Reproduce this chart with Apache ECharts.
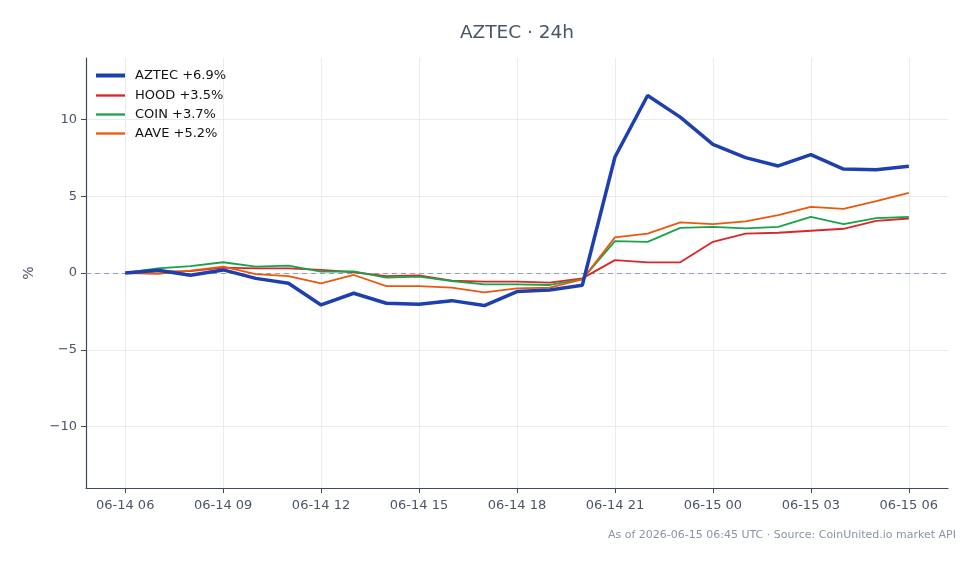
<!DOCTYPE html>
<html>
<head>
<meta charset="utf-8">
<script src="https://cdn.jsdelivr.net/npm/echarts@6/dist/echarts.min.js"></script>
<style>
html,body{margin:0;padding:0;background:#fff;}
#chart{width:979px;height:564px;}
</style>
</head>
<body>
<div id="chart"></div>
<script>
// hours since 2026-06-14 06:00 UTC
const hours = [0,1,2,3,4,5,6,7,8,9,10,11,12,13,14,15,16,17,18,19,20,21,22,23,24];
const tickHours = [0,3,6,9,12,15,18,21,24];
const tickLabels = ['06-14 06','06-14 09','06-14 12','06-14 15','06-14 18','06-14 21','06-15 00','06-15 03','06-15 06'];
const yTicks = [-10,-5,0,5,10];

const aztec = [0,0.18,-0.15,0.2,-0.35,-0.67,-2.08,-1.32,-1.97,-2.03,-1.8,-2.12,-1.21,-1.1,-0.8,7.55,11.56,10.15,8.38,7.51,6.97,7.71,6.77,6.73,6.95];
const hood  = [0,0.1,0.12,0.35,0.3,0.3,0.2,0.05,-0.2,-0.15,-0.5,-0.56,-0.56,-0.63,-0.35,0.84,0.69,0.7,2.03,2.57,2.62,2.75,2.88,3.4,3.55];
const coin  = [0,0.3,0.45,0.7,0.41,0.48,0.09,0.1,-0.3,-0.24,-0.52,-0.74,-0.74,-0.78,-0.4,2.08,2.03,2.94,3.0,2.9,3.01,3.66,3.18,3.57,3.66];
const aave  = [0,-0.05,0.15,0.41,-0.07,-0.2,-0.67,-0.13,-0.85,-0.85,-0.95,-1.26,-1.0,-0.95,-0.42,2.32,2.57,3.29,3.18,3.36,3.77,4.31,4.18,4.68,5.21];

const names = ['AZTEC +6.9%','HOOD +3.5%','COIN +3.7%','AAVE +5.2%'];
const colors = ['#1e40af','#dc2626','#16a34a','#ea580c'];
const widths = [3.5,1.8,1.8,1.8];
const values = [aztec,hood,coin,aave];

const axisColor = '#3d4a5c';
const labelColor = '#4a5568';
const gridColor = '#e8ebef';
const font = 'DejaVu Sans';

const series = values.map((v,i)=>({
  name: names[i],
  type: 'line',
  data: hours.map((h,j)=>[h,v[j]]),
  symbol: 'none',
  lineStyle: {color: colors[i], width: widths[i]},
  itemStyle: {color: colors[i]},
  z: i===0 ? 5 : 3,
  animation: false,
  markLine: i===0 ? {
    silent: true, symbol: 'none', label: {show:false},
    lineStyle: {color:'#8fa0b8', type:[5,4], width:1},
    data: [{yAxis:0}], animation:false, z: 1
  } : undefined
}));

const legendTops = [69, 89, 108, 127];
const legends = names.map((n,i)=>({
  data: [{name:n, icon:'rect'}],
  left: 96, top: legendTops[i], padding: 0,
  itemWidth: 29, itemHeight: widths[i]+0.5,
  lineStyle: {opacity: 0},
  textStyle: {fontFamily: font, fontSize: 13, color:'#111', padding:[0,0,0,5]},
  selectedMode: false
}));

const chart = echarts.init(document.getElementById('chart'), null, {renderer:'canvas'});
chart.setOption({
  animation: false,
  backgroundColor: '#fff',
  title: {
    text: 'AZTEC · 24h', left: 512, top: 19, textAlign: 'center',
    textStyle: {fontFamily: font, fontSize: 18.5, fontWeight: 'normal', color: labelColor}
  },
  legend: legends,
  grid: {left: 86, right: 31, top: 58, bottom: 76, containLabel: false},
  xAxis: {
    type: 'value', min: -1.2, max: 25.2,
    axisLine: {show: true, onZero: false, lineStyle: {color: axisColor, width: 1.2}},
    axisTick: {show: true, customValues: tickHours, length: 5, lineStyle: {color: axisColor}},
    axisLabel: {customValues: tickHours, color: labelColor, fontFamily: font, fontSize: 13, margin: 11,
      formatter: v => tickLabels[tickHours.indexOf(v)] || ''},
    splitLine: {show: true, lineStyle: {color: gridColor, width: 1}}
  },
  yAxis: {
    type: 'value', min: -14, max: 14,
    name: '%', nameLocation: 'middle', nameGap: 50, nameRotate: 90,
    nameTextStyle: {fontFamily: font, fontSize: 14, color: labelColor},
    axisLine: {show: true, onZero: false, lineStyle: {color: axisColor, width: 1.2}},
    axisTick: {show: true, customValues: yTicks, length: 5, lineStyle: {color: axisColor}},
    axisLabel: {customValues: yTicks, color: labelColor, fontFamily: font, fontSize: 13, margin: 9,
      formatter: v => v < 0 ? '\u2212' + Math.abs(v) : String(v)},
    splitLine: {show: true, lineStyle: {color: gridColor, width: 1}}
  },
  graphic: [{
    type: 'text', right: 23, top: 530,
    style: {text: 'As of 2026-06-15 06:45 UTC · Source: CoinUnited.io market API',
      fontFamily: font, fontSize: 11, fill: '#8a94a6'}
  }],
  series: series
});
</script>
</body>
</html>
